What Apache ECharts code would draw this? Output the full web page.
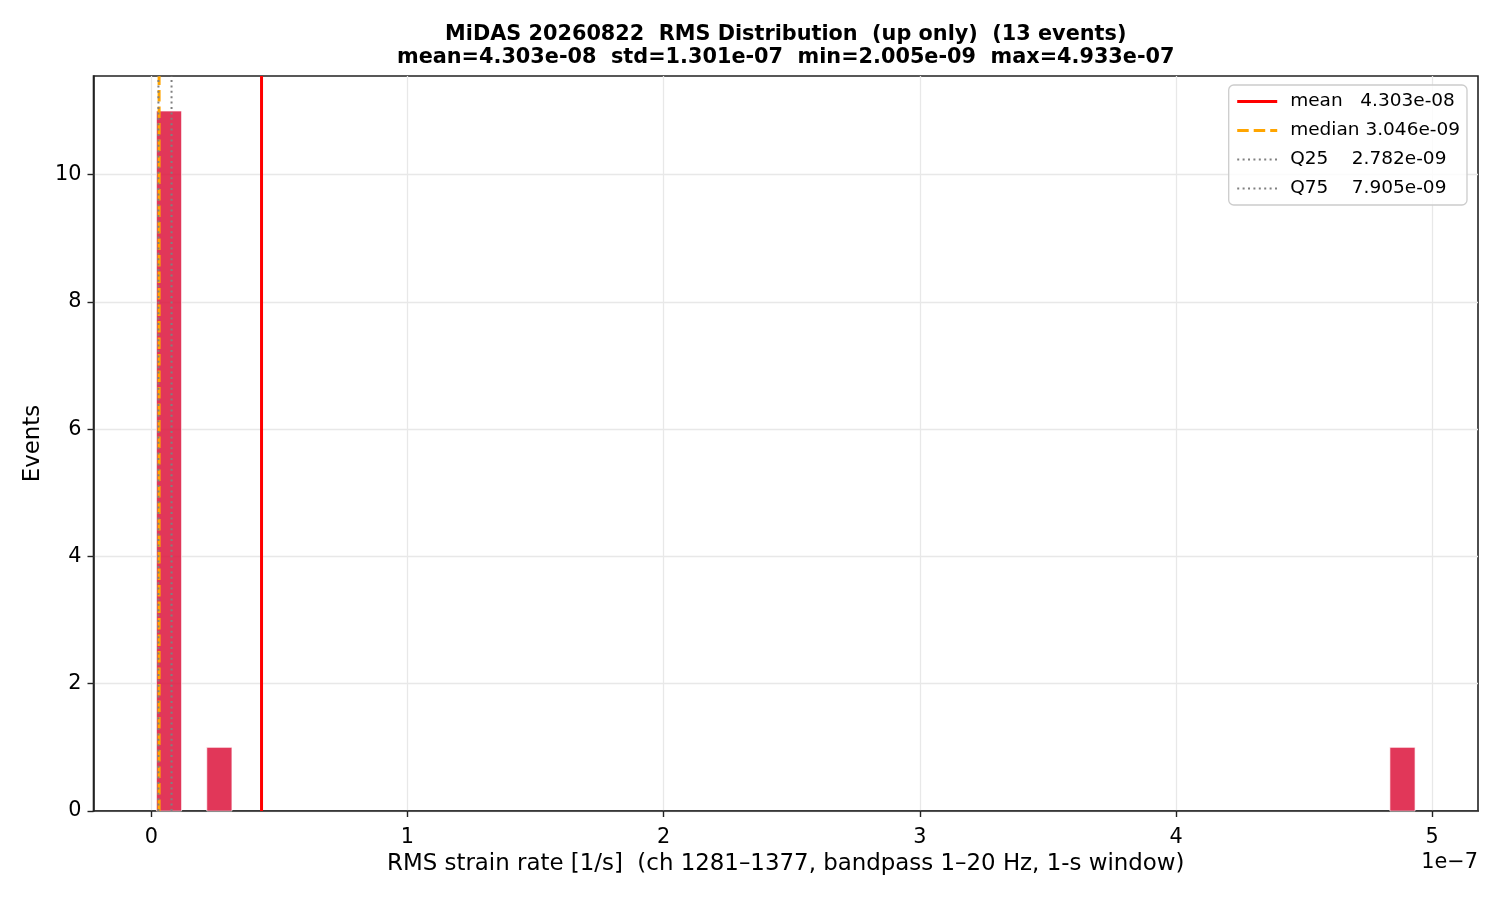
<!DOCTYPE html>
<html>
<head>
<meta charset="utf-8">
<script src="https://cdn.jsdelivr.net/npm/echarts@6/dist/echarts.min.js"></script>
<style>html,body{margin:0;padding:0;background:#fff}#c{width:1500px;height:900px}</style>
</head>
<body>
<div id="c"></div>
<script>
// ---- data ----
const titleLines = [
  'MiDAS 20260822  RMS Distribution  (up only)  (13 events)',
  'mean=4.303e-08  std=1.301e-07  min=2.005e-09  max=4.933e-07'
];
const xAxisTitle = 'RMS strain rate [1/s]  (ch 1281\u20131377, bandpass 1\u201320 Hz, 1-s window)';
const yAxisTitle = 'Events';
const offsetText = '1e\u22127';
const axisScale = 1e-7;
const histMin = 2.005e-9;
const histMax = 4.933e-7;
const binCounts = [
  11, 0, 1, 0, 0, 0, 0, 0, 0, 0,
  0, 0, 0, 0, 0, 0, 0, 0, 0, 0,
  0, 0, 0, 0, 0, 0, 0, 0, 0, 0,
  0, 0, 0, 0, 0, 0, 0, 0, 0, 0,
  0, 0, 0, 0, 0, 0, 0, 0, 0, 1
];
const xTicks = [0, 1, 2, 3, 4, 5];
const yTicks = [0, 2, 4, 6, 8, 10];
const statLabels = ['mean   4.303e-08', 'median 3.046e-09', 'Q25    2.782e-09', 'Q75    7.905e-09'];
const statValues = [4.303e-8, 3.046e-9, 2.782e-9, 7.905e-9];
const statColors = ['#ff0000', '#ffa500', '#808080', '#808080'];
const statDash = ['solid', [11.5, 5], [2, 3.4], [2, 3.4]];
const statWidth = [3, 3, 2, 2];

// ---- build ----
const X_MIN = -0.2256, X_MAX = 5.1787, Y_MAX = 11.55;
const FONT = 'DejaVu Sans';
const binW = (histMax - histMin) / binCounts.length;
const barData = [];
binCounts.forEach((c, i) => {
  if (c > 0) barData.push([(histMin + i * binW) / axisScale, (histMin + (i + 1) * binW) / axisScale, c]);
});

const series = [{
  type: 'custom',
  name: 'hist',
  data: barData,
  encode: { x: [0, 1], y: 2 },
  z: 2,
  silent: true,
  renderItem: function (params, api) {
    const p0 = api.coord([api.value(0), 0]);
    const p1 = api.coord([api.value(1), api.value(2)]);
    return {
      type: 'rect',
      shape: { x: p0[0], y: p1[1], width: p1[0] - p0[0], height: p0[1] - p1[1] },
      style: { fill: 'rgba(220,20,60,0.85)', stroke: 'rgba(255,255,255,0.85)', lineWidth: 0.8 }
    };
  }
}];
const legendData = [];
statLabels.forEach((lab, i) => {
  const ls = { color: statColors[i], width: statWidth[i], type: statDash[i] };
  series.push({
    type: 'line',
    name: lab,
    data: [[statValues[i] / axisScale, 0], [statValues[i] / axisScale, Y_MAX]],
    symbol: 'none',
    silent: true,
    z: 3 + i,
    lineStyle: ls,
    itemStyle: { color: statColors[i], opacity: 0 }
  });
  legendData.push({ name: lab, lineStyle: ls, itemStyle: { opacity: 0, borderWidth: 0 } });
});

const chart = echarts.init(document.getElementById('c'), null, { renderer: 'canvas' });
chart.setOption({
  animation: false,
  backgroundColor: '#ffffff',
  title: {
    text: titleLines.join('\n'),
    left: 785.75,
    textAlign: 'center',
    top: 23,
    padding: 0,
    textStyle: { fontFamily: FONT, fontSize: 20.8, fontWeight: 'bold', color: '#000', lineHeight: 23 }
  },
  legend: {
    data: legendData,
    orient: 'vertical',
    right: 33,
    top: 85,
    itemWidth: 40,
    itemHeight: 18,
    itemGap: 10,
    padding: [7, 7, 7, 7],
    backgroundColor: 'rgba(255,255,255,0.8)',
    borderColor: '#cccccc',
    borderWidth: 1.3,
    borderRadius: 5,
    selectedMode: false,
    itemStyle: { opacity: 0, borderWidth: 0 },
    textStyle: { fontFamily: FONT, fontSize: 18.5, color: '#000', padding: [0, 0, 0, 8] }
  },
  grid: {
    left: 93.5, right: 22, top: 76, bottom: 89,
    show: true, borderColor: '#222', borderWidth: 1.6, backgroundColor: 'transparent'
  },
  xAxis: {
    type: 'value',
    min: X_MIN, max: X_MAX,
    name: xAxisTitle,
    nameLocation: 'middle',
    nameGap: 42,
    nameTextStyle: { fontFamily: FONT, fontSize: 22.9, color: '#000' },
    axisLine: { show: true, onZero: false, lineStyle: { color: '#222', width: 1.6 } },
    axisTick: { show: true, customValues: xTicks, length: 6, lineStyle: { color: '#222', width: 1.4 } },
    axisLabel: { customValues: xTicks, margin: 16, fontFamily: FONT, fontSize: 20.8, color: '#000',
      formatter: v => (Number.isInteger(v) ? String(v) : '') },
    splitLine: { show: true, customValues: xTicks, lineStyle: { color: '#e8e8e8', width: 1.3 } }
  },
  yAxis: {
    type: 'value',
    min: 0, max: Y_MAX,
    name: yAxisTitle,
    nameLocation: 'middle',
    nameRotate: 90,
    nameGap: 46,
    nameTextStyle: { fontFamily: FONT, fontSize: 22.9, color: '#000' },
    axisLine: { show: true, onZero: false, lineStyle: { color: '#222', width: 1.6 } },
    axisTick: { show: true, customValues: yTicks, length: 6, lineStyle: { color: '#222', width: 1.4 } },
    axisLabel: { customValues: yTicks, margin: 12, fontFamily: FONT, fontSize: 20.8, color: '#000',
      formatter: v => (Number.isInteger(v) ? String(v) : '') },
    splitLine: { show: true, customValues: yTicks, lineStyle: { color: '#e8e8e8', width: 1.3 } }
  },
  graphic: [{
    type: 'text',
    right: 22,
    top: 852,
    style: { text: offsetText, fontFamily: FONT, fontSize: 20.8, fill: '#000' }
  }],
  series: series
});
</script>
</body>
</html>
